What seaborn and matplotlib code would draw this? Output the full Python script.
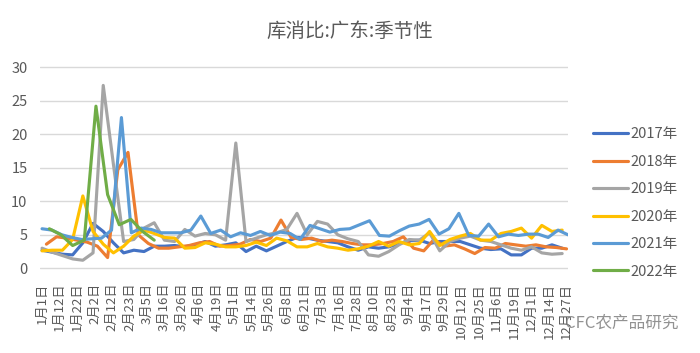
import numpy as np
import pandas as pd
import matplotlib.pyplot as plt
import seaborn as sns

# x-axis labels, one every 12 days
tick_labels = ['1月1日', '1月12日', '1月22日', '2月2日', '2月12日', '2月23日', '3月5日',
               '3月16日', '3月26日', '4月6日', '4月19日', '5月1日', '5月14日', '5月26日',
               '6月8日', '6月21日', '7月3日', '7月16日', '7月28日', '8月10日', '8月23日',
               '9月4日', '9月17日', '9月29日', '10月12日', '10月25日', '11月6日', '11月19日',
               '12月1日', '12月14日', '12月27日']

years = ['2017年', '2018年', '2019年', '2020年', '2021年', '2022年']
colors = ['#4472C4', '#ED7D31', '#A5A5A5', '#FFC000', '#5B9BD5', '#70AD47']

# stock / consumption ratio (weekly)
v2017 = [2.7, 2.4, 2.1, 2.0, 3.8, 6.7, 5.5, 3.8, 2.3, 2.7,
         2.5, 3.3, 3.3, 3.4, 3.2, 3.5, 4.0, 3.3, 3.5, 3.8,
         2.5, 3.3, 2.6, 3.3, 4.0, 4.6, 4.5, 4.2, 4.0, 3.8,
         3.2, 2.7, 3.2, 3.0, 3.2, 3.7, 4.1, 4.2, 3.7, 4.0,
         4.0, 4.0, 3.5, 3.0, 2.8, 2.9, 2.0, 2.0, 3.0, 3.0,
         3.5, 3.0]
v2018 = [3.6, 4.7, 4.5, 4.2, 3.9, 3.3, 1.6, 14.7, 17.3, 5.0,
         3.7, 3.0, 3.0, 3.2, 3.4, 3.8, 4.0, 3.3, 3.4, 3.6,
         4.3, 4.0, 4.5, 7.2, 4.6, 4.3, 4.5, 4.0, 4.2, 4.0,
         3.7, 3.5, 3.5, 3.7, 4.0, 4.7, 3.0, 2.6, 4.3, 3.3,
         3.5, 2.9, 2.2, 3.1, 3.0, 3.7, 3.5, 3.3, 3.5, 3.2,
         3.1, 2.9]
v2019 = [3.0, 2.4, 1.9, 1.4, 1.2, 2.3, 27.3, 15.5, 4.0, 4.3,
         6.0, 6.8, 4.2, 4.0, 5.8, 4.8, 5.2, 5.0, 4.2, 18.7,
         4.0, 4.5, 5.0, 5.3, 5.8, 8.2, 5.0, 7.0, 6.6, 5.0,
         4.4, 4.0, 2.0, 1.8, 2.5, 3.5, 4.3, 4.2, 5.3, 2.6,
         4.0, 4.5, 4.8, 4.2, 4.0, 3.5, 3.0, 2.7, 3.2, 2.3,
         2.1, 2.2]
v2020 = [2.6, 2.7, 2.7, 4.3, 10.8, 5.5, 3.6, 2.3, 3.3, 4.8,
         5.7, 5.2, 4.6, 4.5, 3.0, 3.1, 3.8, 3.6, 3.2, 3.2,
         3.4, 3.9, 3.4, 4.5, 4.1, 3.2, 3.2, 3.7, 3.2, 3.0,
         2.7, 2.9, 3.3, 4.0, 3.3, 4.0, 3.5, 3.7, 5.5, 3.4,
         4.3, 4.8, 5.2, 4.2, 4.2, 5.2, 5.5, 6.0, 4.5, 6.4,
         5.5, 5.7]
v2021 = [5.9, 5.7, 5.0, 4.6, 4.3, 4.4, 4.5, 5.7, 22.5, 5.3,
         6.0, 5.8, 5.3, 5.3, 5.3, 5.7, 7.8, 5.2, 5.7, 4.7,
         5.3, 4.9, 5.5, 4.9, 5.4, 5.2, 4.3, 6.4, 5.9, 5.4,
         5.8, 5.9, 6.5, 7.1, 4.9, 4.8, 5.6, 6.3, 6.6, 7.3,
         5.1, 5.9, 8.2, 4.9, 4.8, 6.6, 4.7, 5.1, 4.9, 5.1,
         5.1, 4.6, 5.7, 5.0]
v2022 = [5.9, 5.0, 3.4, 4.2, 24.2, 11.0, 6.5, 7.3, 5.5, 4.2]

# first and last day of each series (day 0 = 1月1日)
first_day = [0, 3, 0, 0, 0, 5]
last_day = [357, 360, 357, 357, 361, 77]

frames = []
for year, vals, d0, d1 in zip(years, [v2017, v2018, v2019, v2020, v2021, v2022],
                              first_day, last_day):
    frames.append(pd.DataFrame({'day': np.linspace(d0, d1, len(vals)),
                                'value': vals, 'year': year}))
df = pd.concat(frames, ignore_index=True)

sns.set_style('white')
plt.rcParams['font.family'] = ['Noto Sans CJK SC', 'DejaVu Sans']

fig = plt.figure(figsize=(7, 3.53), dpi=100)
ax = fig.add_axes([40 / 700, 1 - 270.3 / 353, 528 / 700, 205 / 353])

sns.lineplot(data=df, x='day', y='value', hue='year', hue_order=years,
             palette=colors, linewidth=2.25, estimator=None, ax=ax,
             solid_joinstyle='round')

ax.set_xlim(-1.4, 361)
ax.set_ylim(-0.3, 30.3)
ax.set_yticks(range(0, 31, 5))
ax.set_xticks(np.arange(len(tick_labels)) * 12)
ax.set_xticklabels(tick_labels, rotation=90)
ax.set_xlabel('')
ax.set_ylabel('')
ax.yaxis.grid(True, color='#D9D9D9', linewidth=1)
ax.set_axisbelow(True)
for s in ax.spines.values():
    s.set_visible(False)
ax.tick_params(axis='both', length=0, colors='#595959')
ax.tick_params(axis='x', labelsize=9.5, pad=9)
ax.tick_params(axis='y', labelsize=10.5, pad=9)

handles, labels = ax.get_legend_handles_labels()
ax.legend(handles, labels, loc='center left', bbox_to_anchor=(593 / 700, 1 - 203 / 353),
          bbox_transform=fig.transFigure, frameon=False, fontsize=10.5,
          handlelength=2.4, handletextpad=0.2, labelspacing=0.92,
          borderpad=0, borderaxespad=0, labelcolor='#595959')

fig.text(0.5, 1 - 31 / 353, '库消比:广东:季节性', ha='center', va='center',
         fontsize=14, color='#595959')
fig.text(565 / 700, 1 - 323 / 353, 'CFC农产品研究', ha='left', va='center',
         fontsize=12, color='#7F7F7F', alpha=0.85)

fig.savefig('out.png', dpi=100)
